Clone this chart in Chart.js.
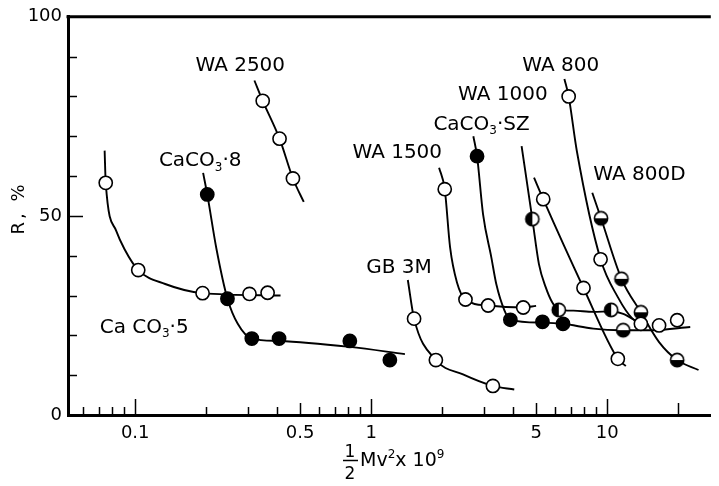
<!DOCTYPE html>
<html>
<head>
<meta charset="utf-8">
<script src="https://cdn.jsdelivr.net/npm/chart.js@4.4.1/dist/chart.umd.min.js"></script>
<style>
  html, body { margin: 0; padding: 0; background: #fff; }
  #chart { display: block; }
</style>
</head>
<body>
<canvas id="chart" width="719" height="486"></canvas>
<script>
// measured points: [1/2 Mv^2 x 10^9, R %]
var caco3_5  = [[0.075, 58.3], [0.103, 36.4], [0.193, 30.6], [0.305, 30.4], [0.364, 30.7]];
var caco3_8  = [[0.202, 55.4], [0.246, 29.2], [0.312, 19.2], [0.407, 19.2], [0.812, 18.6], [1.20, 13.8]];
var wa2500   = [[0.347, 78.9], [0.409, 69.4], [0.466, 59.4]];
var gb3m     = [[1.52, 24.2], [1.88, 13.8], [3.28, 7.3]];
var wa1500   = [[2.05, 56.7], [2.51, 29.0], [3.13, 27.5], [4.41, 27.0]];
var caco3_sz = [[2.81, 65.0], [3.89, 23.9], [5.32, 23.4], [6.50, 22.9]];
var wa1000   = [[4.82, 49.2], [6.24, 26.4], [10.4, 26.4]];
var wa1000o  = [[5.36, 54.2], [7.94, 31.9], [11.1, 14.1]];
var wa800    = [[6.87, 80.0], [9.38, 39.1], [13.9, 22.9], [16.6, 22.5], [19.8, 23.8]];
var wa800d   = [[9.42, 49.4], [11.5, 34.2], [13.9, 25.8], [11.7, 21.3], [19.8, 13.8]];

// hand-drawn fit curves through each set
var caco3_5Fit  = [[0.0742, 66.4], [0.075, 58.3], [0.083, 46.3], [0.090, 41.7], [0.103, 36.4], [0.134, 32.9], [0.193, 30.6], [0.413, 30.0]];
var caco3_8Fit  = [[0.194, 60.8], [0.202, 55.4], [0.221, 41.7], [0.246, 29.2], [0.272, 22.9], [0.312, 19.2], [0.407, 18.6], [0.812, 17.1], [1.39, 15.3]];
var wa2500Fit   = [[0.320, 84.0], [0.347, 78.9], [0.409, 69.4], [0.466, 59.4], [0.518, 53.5]];
var gb3mFit     = [[1.43, 33.9], [1.52, 24.2], [1.88, 13.8], [2.45, 10.2], [3.28, 7.3], [4.04, 6.4]];
var wa1500Fit   = [[1.94, 62.1], [2.05, 56.7], [2.16, 42.1], [2.31, 33.3], [2.51, 29.0], [3.13, 27.5], [4.41, 27.0], [5.00, 27.4]];
var caco3_szFit = [[2.71, 70.0], [2.81, 65.0], [2.98, 50.4], [3.23, 39.6], [3.39, 32.9], [3.67, 26.3], [3.89, 23.9], [5.32, 23.2], [6.50, 22.9], [8.74, 21.7], [11.3, 21.3], [15.6, 21.3], [22.5, 22.1]];
var wa1000Fit   = [[4.34, 67.5], [4.82, 49.2], [5.14, 37.9], [5.49, 32.1], [5.85, 28.3], [6.24, 26.4], [7.20, 26.2], [8.74, 25.9], [10.4, 26.0], [11.7, 25.4], [13.5, 23.3]];
var wa1000oFit  = [[4.90, 59.6], [5.36, 54.2], [7.94, 31.9], [11.1, 14.1], [12.0, 12.3]];
var wa800Fit    = [[6.59, 84.4], [6.87, 80.0], [7.44, 66.3], [9.38, 39.1], [11.1, 29.6], [12.8, 24.2], [14.5, 22.6]];
var wa800dFit   = [[8.65, 55.8], [9.42, 49.4], [11.5, 34.2], [13.9, 25.8], [16.6, 18.3], [19.8, 13.8], [24.4, 11.3]];

// axis ticks
var xTicks = [0.06, 0.07, 0.08, 0.09, 0.1, 0.2, 0.3, 0.4, 0.5, 0.6, 0.7, 0.8, 0.9, 1, 2, 3, 4, 5, 6, 7, 8, 9, 10, 20];
var xLabelled = [0.1, 0.5, 1, 5, 10];
var xLong = [0.1, 1, 10];
var xMid = [0.5, 5, 20];
var yLabelled = [0, 50, 100];

// curve names and where they sit on the plot (data units)
var names = [
  ['WA 2500'],
  ['CaCO', {sub: '3'}, '·8'],
  ['Ca CO', {sub: '3'}, '·5'],
  ['GB 3M'],
  ['WA 1500'],
  ['CaCO', {sub: '3'}, '·SZ'],
  ['WA 1000'],
  ['WA 800'],
  ['WA 800D']
];
var nameAt = [[0.180, 88.3], [0.126, 64.3], [0.0707, 22.5], [0.953, 37.5], [0.833, 66.3], [1.835, 73.5], [2.334, 80.8], [4.368, 88.3], [8.74, 60.8]];

var FONT = '"DejaVu Sans", sans-serif';
Chart.defaults.font.family = FONT;
Chart.defaults.color = '#000';

function pts(arr) {
  return arr.map(function (p) { return {x: p[0], y: p[1]}; });
}

// circle marker with one half blacked out
function halfMarker(side) {
  var c = document.createElement('canvas');
  c.width = 18; c.height = 18;
  var g = c.getContext('2d');
  g.beginPath(); g.arc(9, 9, 6.6, 0, 2 * Math.PI);
  g.fillStyle = '#fff'; g.fill();
  g.beginPath();
  if (side === 'left') g.arc(9, 9, 6.6, Math.PI / 2, Math.PI * 1.5);
  else g.arc(9, 9, 6.6, 0, Math.PI);
  g.closePath(); g.fillStyle = '#000'; g.fill();
  g.beginPath(); g.arc(9, 9, 6.6, 0, 2 * Math.PI);
  g.lineWidth = 1.6; g.strokeStyle = '#000'; g.stroke();
  return c;
}

function curve(arr) {
  return {
    data: pts(arr), showLine: true, borderColor: '#000', borderWidth: 1.9,
    pointRadius: 0, cubicInterpolationMode: 'monotone', order: 2
  };
}

function marks(arr, fill, style) {
  return {
    data: pts(arr), showLine: false, pointRadius: 6.6, pointBorderWidth: 1.6,
    pointBorderColor: '#000', pointBackgroundColor: fill, pointStyle: style || 'circle', order: 1
  };
}

var open = '#fff', solid = '#000';
var halfL = halfMarker('left'), halfB = halfMarker('bottom');

function drawRich(ctx, parts, x, yMid, size) {
  var base = yMid + size * 0.36;
  parts.forEach(function (p) {
    if (typeof p === 'string') {
      ctx.font = size + 'px ' + FONT;
      ctx.fillText(p, x, base);
      x += ctx.measureText(p).width;
    } else {
      var s = p.sub || p.sup;
      ctx.font = Math.round(size * 0.62) + 'px ' + FONT;
      ctx.fillText(s, x, p.sub ? base + size * 0.22 : base - size * 0.42);
      x += ctx.measureText(s).width;
    }
  });
  return x;
}

var decorations = {
  id: 'decorations',
  afterDraw: function (chart) {
    var ctx = chart.ctx, a = chart.chartArea;
    var xs = chart.scales.x, ys = chart.scales.y;
    ctx.save();
    ctx.strokeStyle = '#000';
    ctx.fillStyle = '#000';

    // top frame line
    ctx.lineWidth = 3;
    ctx.beginPath();
    ctx.moveTo(a.left - 1.5, a.top);
    ctx.lineTo(a.right, a.top);
    ctx.stroke();

    // tick marks pointing into the plot
    ctx.lineWidth = 1.5;
    xTicks.forEach(function (v) {
      var px = Math.round(xs.getPixelForValue(v)) + 0.5;
      var len = xLong.indexOf(v) >= 0 ? 16 : (xMid.indexOf(v) >= 0 ? 12 : 8);
      ctx.beginPath();
      ctx.moveTo(px, a.bottom);
      ctx.lineTo(px, a.bottom - len);
      ctx.stroke();
    });
    for (var v = 10; v < 100; v += 10) {
      var py = Math.round(ys.getPixelForValue(v)) + 0.5;
      ctx.beginPath();
      ctx.moveTo(a.left, py);
      ctx.lineTo(a.left + (v === 50 ? 15 : 9), py);
      ctx.stroke();
    }

    // curve names
    names.forEach(function (parts, i) {
      drawRich(ctx, parts, xs.getPixelForValue(nameAt[i][0]), ys.getPixelForValue(nameAt[i][1]), 20);
    });

    // y title
    ctx.save();
    ctx.translate(19, 208);
    ctx.rotate(-Math.PI / 2);
    ctx.font = '18px ' + FONT;
    ctx.textAlign = 'center';
    ctx.textBaseline = 'middle';
    ctx.letterSpacing = '3px';
    ctx.fillText('R, %', 0, 0);
    ctx.restore();

    // x title: 1/2 Mv^2 x 10^9
    ctx.font = '17px ' + FONT;
    ctx.textAlign = 'center';
    ctx.textBaseline = 'alphabetic';
    ctx.fillText('1', 350, 457);
    ctx.fillText('2', 350, 479);
    ctx.lineWidth = 1.5;
    ctx.beginPath();
    ctx.moveTo(343, 460.5);
    ctx.lineTo(358, 460.5);
    ctx.stroke();
    ctx.textAlign = 'left';
    drawRich(ctx, ['Mv', {sup: '2'}, 'x 10', {sup: '9'}], 360, 459, 19);
    ctx.restore();
  }
};

new Chart(document.getElementById('chart'), {
  type: 'scatter',
  data: {
    datasets: [
      curve(caco3_5Fit), curve(caco3_8Fit), curve(wa2500Fit), curve(gb3mFit), curve(wa1500Fit),
      curve(caco3_szFit), curve(wa1000Fit), curve(wa1000oFit), curve(wa800Fit), curve(wa800dFit),
      marks(caco3_5, open), marks(caco3_8, solid), marks(wa2500, open), marks(gb3m, open),
      marks(wa1500, open), marks(caco3_sz, solid), marks(wa1000, open, halfL),
      marks(wa1000o, open), marks(wa800, open), marks(wa800d, open, halfB)
    ]
  },
  options: {
    responsive: false,
    animation: false,
    devicePixelRatio: 1,
    layout: { padding: { top: 15, right: 0, left: 0, bottom: 0 } },
    plugins: { legend: { display: false }, tooltip: { enabled: false } },
    scales: {
      x: {
        type: 'logarithmic',
        min: 0.0519,
        max: 27.5,
        bounds: 'data',
        grid: { display: false, drawTicks: false },
        border: { display: true, width: 3, color: '#000' },
        ticks: {
          autoSkip: false, maxRotation: 0, padding: 8, font: { size: 18 },
          callback: function (v) { return xLabelled.indexOf(v) >= 0 ? String(v) : ''; }
        },
        afterBuildTicks: function (s) { s.ticks = xTicks.map(function (v) { return {value: v}; }); },
        afterFit: function (s) { s.height = 71; }
      },
      y: {
        min: 0,
        max: 100,
        grid: { display: false, drawTicks: false },
        border: { display: true, width: 3, color: '#000' },
        ticks: {
          stepSize: 10, autoSkip: false, padding: 6, font: { size: 18 },
          callback: function (v) { return yLabelled.indexOf(v) >= 0 ? String(v) : ''; }
        },
        afterFit: function (s) { s.width = 68; }
      }
    }
  },
  plugins: [decorations]
});
</script>
</body>
</html>
